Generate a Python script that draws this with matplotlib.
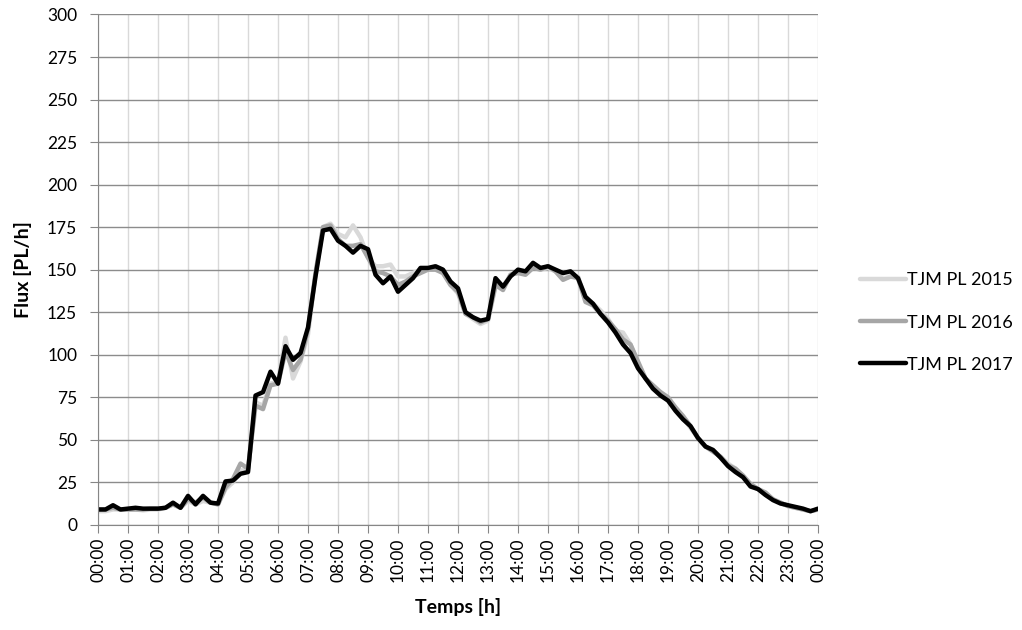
import numpy as np
import matplotlib.pyplot as plt

plt.rcParams['font.family'] = ['Lato', 'DejaVu Sans']

# 15-min values, 00:00 -> 24:00 (97 points)
tjm_2015 = [8, 8, 9, 9,  9, 9, 8.5, 9,  9, 10, 12, 10,  14, 12, 14, 13,
            12, 21, 25, 32,  32, 72, 70, 83,  84, 110, 86, 96,  112, 147, 175, 177,
            171, 169, 176, 169,  157, 152, 152, 153,  146, 146, 148, 150,  151, 151, 148, 141,
            136, 124, 121, 118,  120, 140, 140, 147,  149, 148, 153, 150,  151, 149, 145, 146,
            146, 132, 130, 126,  121, 114, 113, 106,  95, 86, 81, 78,  74, 69, 63, 57,
            51, 46, 44, 40,  36, 33, 28, 24,  21, 18, 15, 13,  11, 10, 9, 8,  9]
tjm_2016 = [9, 9, 10, 9,  9, 9, 9, 9.5,  9.5, 10, 12, 10,  15, 13, 16, 13,
            12, 22, 27, 36,  33, 70, 68, 82,  83, 102, 91, 97,  115, 148, 175, 176,
            168, 164, 164, 165,  157, 149, 148, 146,  141, 143, 146, 148,  150, 150, 148, 141,
            137, 124, 122, 119,  121, 141, 138, 147,  148, 147, 151, 150,  152, 149, 144, 146,
            145, 131, 129, 124,  120, 115, 109, 106,  96, 86, 82, 78,  75, 69, 64, 58,
            51, 46, 43, 40,  35, 33, 29, 24,  21, 19, 15, 13,  11, 10, 9, 8,  9]
tjm_2017 = [9, 9, 11.5, 9,  9.5, 10, 9.5, 9.5,  9.5, 10, 13, 10,  17, 12, 17, 13,
            12.5, 25.5, 26, 30,  31, 76, 78, 90,  83, 105, 97, 101,  116, 146, 173, 174,
            167, 164, 160, 164,  162, 147, 142, 146,  137, 141, 145, 151,  151, 152, 150, 143,
            139, 125, 122, 120,  121, 145, 140, 146,  150, 149, 154, 151,  152, 150, 148, 149,
            145, 134, 130, 124,  119, 113, 106, 101,  92, 86, 80, 76,  73, 67, 62, 58,
            51, 46, 44, 39.5,  34.5, 31, 28, 22.5,  21, 17.5, 14.5, 12.5,  11.5, 10.5, 9.5, 8,  9.5]

hours = np.arange(len(tjm_2017)) * 0.25
tick_labels = ['%02d:00' % (h % 24) for h in range(25)]

fig = plt.figure(figsize=(10.22, 6.3), dpi=100)
ax = fig.add_axes([0.0959, 0.167, 0.7045, 0.810])

ax.plot(hours, tjm_2015, color='#d9d9d9', lw=3.2, label='TJM PL 2015', solid_capstyle='round')
ax.plot(hours, tjm_2016, color='#a6a6a6', lw=3.2, label='TJM PL 2016', solid_capstyle='round')
ax.plot(hours, tjm_2017, color='black', lw=3.2, label='TJM PL 2017', solid_capstyle='round')

ax.set_xlim(0, 24)
ax.set_ylim(0, 300)
ax.set_xticks(range(25))
ax.set_xticklabels(tick_labels, rotation=90, fontsize=12.5)
ax.set_yticks(range(0, 301, 25))
ax.tick_params(axis='y', labelsize=12.5, length=6, color='#868686', pad=9)
ax.tick_params(axis='x', length=6, color='#868686', pad=3)

ax.grid(axis='y', color='#8c8c8c', lw=1)
ax.grid(axis='x', color='#d9d9d9', lw=1)
ax.set_axisbelow(True)
for s in ['top', 'right']:
    ax.spines[s].set_visible(False)
for s in ['left', 'bottom']:
    ax.spines[s].set_color('#868686')

ax.set_ylabel('Flux [PL/h]', fontsize=14, fontweight='bold', labelpad=11)
ax.set_xlabel('Temps [h]', fontsize=14, fontweight='bold', labelpad=12)

fig.legend(loc='center left', bbox_to_anchor=(0.826, 0.488), frameon=False,
           fontsize=13, handlelength=2.5, handletextpad=0.1, labelspacing=1.45)

fig.savefig('out.png', dpi=100)
